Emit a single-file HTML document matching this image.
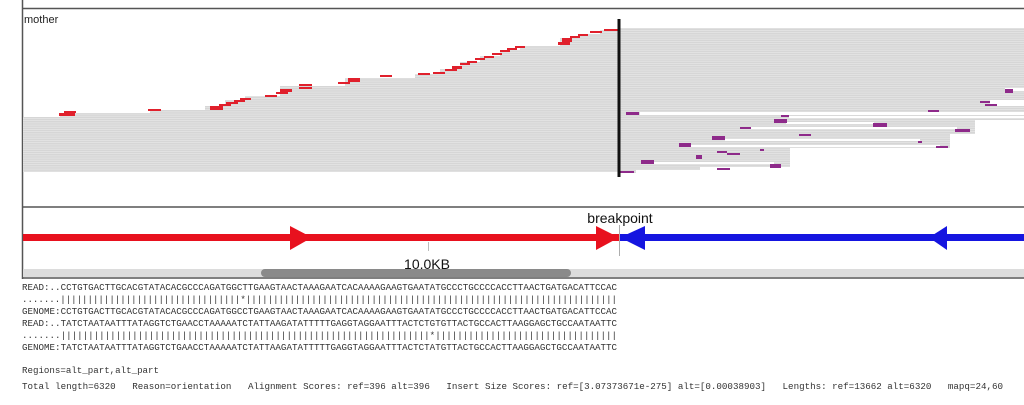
<!DOCTYPE html>
<html><head><meta charset="utf-8"><style>
html,body{margin:0;padding:0;background:#fff;width:1024px;height:405px;overflow:hidden}
</style></head><body>
<svg width="1024" height="405" viewBox="0 0 1024 405" xmlns="http://www.w3.org/2000/svg">
<defs>
<pattern id="rows" width="4" height="2.2" patternUnits="userSpaceOnUse">
<rect width="4" height="2.2" fill="#d6d6d6"/><rect y="1.5" width="4" height="0.7" fill="#e8e8e8"/>
</pattern>
</defs>
<!-- frame -->
<line x1="22" y1="8.5" x2="1024" y2="8.5" stroke="#555" stroke-width="1.5"/>
<line x1="22.5" y1="0" x2="22.5" y2="279" stroke="#555" stroke-width="1.5"/>
<line x1="22" y1="207" x2="1024" y2="207" stroke="#555" stroke-width="1.5"/>
<line x1="22" y1="278" x2="1024" y2="278" stroke="#555" stroke-width="1.5"/>
<text x="24" y="23" font-family="Liberation Sans, sans-serif" font-size="11" fill="#222">mother</text>

<!-- left reads -->
<polygon fill="url(#rows)" points="23,172 23,117 60,117 60,113 150,113 150,110 205,110 205,106 225,106 225,100 245,100 245,96 280,96 280,86 345,86 345,78 415,78 415,74 440,74 440,69 460,69 460,62 480,62 480,56 500,56 500,50 520,50 520,46 560,46 560,38 580,38 580,34 600,34 600,30 619,30 619,172"/>
<g fill="#e0202c">
<rect x="59" y="113" width="16" height="3"/><rect x="64" y="111" width="12" height="2"/>
<rect x="148" y="109" width="13" height="2"/>
<rect x="210" y="106" width="13" height="4"/><rect x="219" y="104" width="12" height="2"/><rect x="226" y="102" width="12" height="2"/><rect x="234" y="100" width="11" height="2"/><rect x="240" y="98" width="11" height="2"/>
<rect x="265" y="95" width="12" height="2"/><rect x="276" y="92" width="12" height="2"/><rect x="280" y="89" width="12" height="3"/>
<rect x="299" y="84" width="13" height="2"/><rect x="299" y="87" width="13" height="2"/>
<rect x="338" y="82" width="12" height="2"/><rect x="348" y="78" width="12" height="4"/>
<rect x="380" y="75" width="12" height="2"/>
<rect x="418" y="73" width="12" height="2"/><rect x="433" y="72" width="12" height="2"/>
<rect x="445" y="69" width="12" height="2"/><rect x="452" y="66" width="10" height="3"/><rect x="460" y="63" width="10" height="2"/><rect x="467" y="61" width="10" height="2"/>
<rect x="475" y="58" width="10" height="2"/><rect x="484" y="56" width="10" height="2"/><rect x="492" y="53" width="10" height="2"/><rect x="500" y="50" width="10" height="2"/><rect x="507" y="48" width="10" height="2"/><rect x="515" y="46" width="10" height="2"/>
<rect x="558" y="42" width="12" height="3"/><rect x="562" y="38" width="10" height="4"/><rect x="570" y="36" width="10" height="2"/><rect x="578" y="34" width="10" height="2"/><rect x="590" y="31" width="12" height="2"/><rect x="604" y="29" width="14" height="2"/>
</g>

<!-- right reads -->
<polygon fill="url(#rows)" points="619,28 1024,28 1024,120 975,120 975,134 950,134 950,148 790,148 790,167 700,167 700,170 636,170 636,173 619,173"/>
<g fill="#fff">
<rect x="1005" y="88" width="19" height="3"/>
<rect x="990" y="100" width="34" height="6"/>
<rect x="640" y="112" width="384" height="3"/>
<rect x="789" y="116" width="235" height="2"/>
<rect x="786" y="122" width="88" height="2"/>
<rect x="751" y="127" width="206" height="2"/>
<rect x="725" y="139" width="195" height="2"/>
<rect x="690" y="145" width="250" height="2"/>
<rect x="654" y="162" width="120" height="2"/>
</g>
<g fill="#8e2a8a">
<rect x="1005" y="89" width="8" height="4"/><rect x="980" y="101" width="10" height="2"/><rect x="985" y="104" width="12" height="2"/>
<rect x="928" y="110" width="11" height="2"/>
<rect x="626" y="112" width="13" height="3"/>
<rect x="781" y="115" width="8" height="2"/>
<rect x="774" y="119" width="13" height="4"/>
<rect x="873" y="123" width="14" height="4"/>
<rect x="740" y="127" width="11" height="2"/>
<rect x="955" y="129" width="15" height="3"/>
<rect x="799" y="134" width="12" height="2"/>
<rect x="712" y="136" width="13" height="4"/>
<rect x="918" y="141" width="4" height="2"/>
<rect x="679" y="143" width="12" height="4"/>
<rect x="936" y="146" width="12" height="2"/>
<rect x="760" y="149" width="4" height="2"/>
<rect x="717" y="151" width="10" height="2"/><rect x="727" y="153" width="13" height="2"/>
<rect x="696" y="155" width="6" height="4"/>
<rect x="641" y="160" width="13" height="4"/>
<rect x="770" y="164" width="11" height="4"/>
<rect x="717" y="168" width="13" height="2"/>
<rect x="620" y="171" width="14" height="2"/>
</g>
<line x1="619" y1="19" x2="619" y2="177" stroke="#111" stroke-width="3"/>

<!-- arrow track -->
<rect x="23" y="234" width="596" height="7" fill="#e8111e"/>
<polygon points="290,226 312,237.5 290,250" fill="#e8111e"/>
<polygon points="596,226 619,237.5 596,250" fill="#e8111e"/>
<rect x="620" y="234" width="404" height="7" fill="#1515e0"/>
<polygon points="645,226 620,237.5 645,250" fill="#1515e0"/>
<polygon points="947,226 929,237.5 947,250" fill="#1515e0"/>
<line x1="619.5" y1="225" x2="619.5" y2="256" stroke="#999" stroke-width="0.8"/>
<line x1="428.5" y1="242" x2="428.5" y2="251" stroke="#aaa" stroke-width="0.8"/>
<text x="620" y="223" text-anchor="middle" font-family="Liberation Sans, sans-serif" font-size="14" fill="#111">breakpoint</text>
<text x="427" y="269" text-anchor="middle" font-family="Liberation Sans, sans-serif" font-size="14" fill="#111">10.0KB</text>
<rect x="23" y="269" width="1001" height="8" fill="#dcdcdc"/>
<rect x="261" y="269" width="310" height="8" rx="4" fill="#8a8a8a"/>

<!-- alignment text -->
<g font-family="Liberation Mono, monospace" font-size="9.2" fill="#333">
<text x="22" y="290" textLength="595" lengthAdjust="spacingAndGlyphs">READ:..CCTGTGACTTGCACGTATACACGCCCAGATGGCTTGAAGTAACTAAAGAATCACAAAAGAAGTGAATATGCCCTGCCCCACCTTAACTGATGACATTCCAC</text>
<text x="22" y="302" textLength="595" lengthAdjust="spacingAndGlyphs">.......|||||||||||||||||||||||||||||||||*||||||||||||||||||||||||||||||||||||||||||||||||||||||||||||||||||||</text>
<text x="22" y="314" textLength="595" lengthAdjust="spacingAndGlyphs">GENOME:CCTGTGACTTGCACGTATACACGCCCAGATGGCCTGAAGTAACTAAAGAATCACAAAAGAAGTGAATATGCCCTGCCCCACCTTAACTGATGACATTCCAC</text>
<text x="22" y="326" textLength="595" lengthAdjust="spacingAndGlyphs">READ:..TATCTAATAATTTATAGGTCTGAACCTAAAAATCTATTAAGATATTTTTGAGGTAGGAATTTACTCTGTGTTACTGCCACTTAAGGAGCTGCCAATAATTC</text>
<text x="22" y="338" textLength="595" lengthAdjust="spacingAndGlyphs">.......|||||||||||||||||||||||||||||||||||||||||||||||||||||||||||||||||||*|||||||||||||||||||||||||||||||||</text>
<text x="22" y="350" textLength="595" lengthAdjust="spacingAndGlyphs">GENOME:TATCTAATAATTTATAGGTCTGAACCTAAAAATCTATTAAGATATTTTTGAGGTAGGAATTTACTCTATGTTACTGCCACTTAAGGAGCTGCCAATAATTC</text>
<text x="22" y="373" textLength="137" lengthAdjust="spacingAndGlyphs">Regions=alt_part,alt_part</text>
<text x="22" y="389" textLength="981" lengthAdjust="spacingAndGlyphs" xml:space="preserve">Total length=6320   Reason=orientation   Alignment Scores: ref=396 alt=396   Insert Size Scores: ref=[3.07373671e-275] alt=[0.00038903]   Lengths: ref=13662 alt=6320   mapq=24,60</text>
</g>
</svg>
</body></html>
